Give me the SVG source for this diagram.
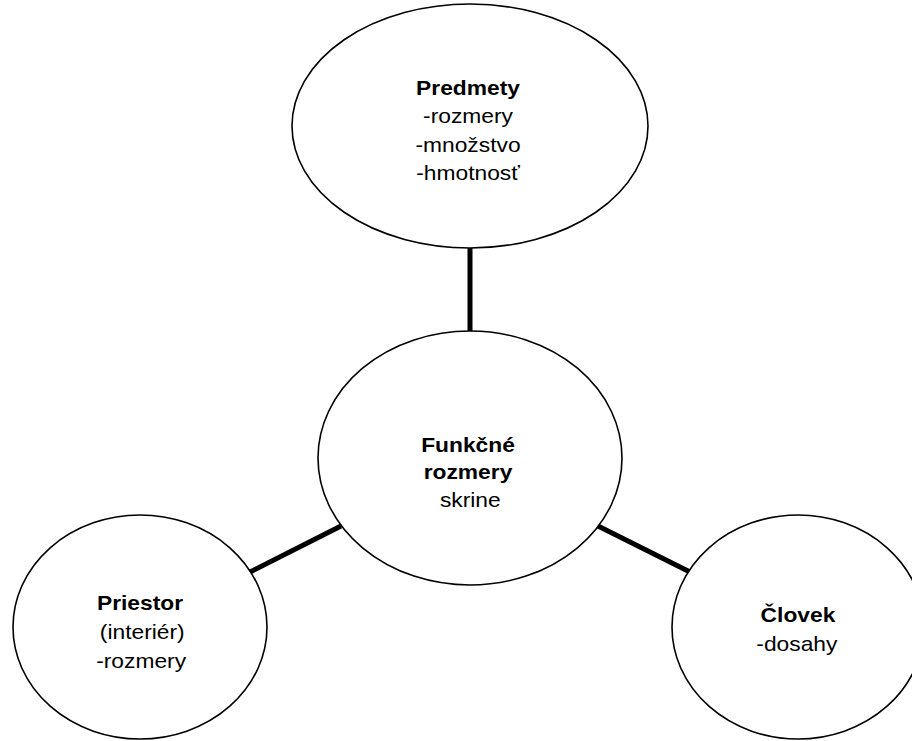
<svg xmlns="http://www.w3.org/2000/svg" width="912" height="741" viewBox="0 0 912 741">
<style>
.shape{fill:#fff;stroke:#000;stroke-width:1.6}
.conn{stroke:#000;stroke-width:5;fill:none}
text{font-family:"Liberation Sans",Arial,sans-serif;font-size:20px;fill:#000;text-anchor:middle}
.b{font-weight:bold}
</style>
<rect width="912" height="741" fill="#fff"/>
<g id="connectors">
<line class="conn" x1="470" y1="248" x2="470" y2="332"/>
<line class="conn" x1="250" y1="572" x2="341" y2="526"/>
<line class="conn" x1="598" y1="526" x2="690" y2="572"/>
</g>
<g id="predmety">
<ellipse class="shape" cx="470" cy="126" rx="178" ry="122"/>
<g transform="matrix(1.14 0 0 1 468 0)">
<text class="b" x="0" y="95">Predmety</text>
<text x="0" y="123.5">-rozmery</text>
<text x="0" y="152">-množstvo</text>
<text x="0" y="180.5">-hmotnosť</text>
</g>
</g>
<g id="funkcne">
<ellipse class="shape" cx="470" cy="458" rx="152" ry="127"/>
<g transform="matrix(1.14 0 0 1 468 0)">
<text class="b" x="0" y="452">Funkčné</text>
<text class="b" x="0" y="479">rozmery</text>
<text x="2" y="507">skrine</text>
</g>
</g>
<g id="priestor">
<ellipse class="shape" cx="140" cy="627" rx="127" ry="112"/>
<g transform="matrix(1.14 0 0 1 140 0)">
<text class="b" x="0" y="610">Priestor</text>
<text x="2" y="639">(interiér)</text>
<text x="1" y="668">-rozmery</text>
</g>
</g>
<g id="clovek">
<ellipse class="shape" cx="798" cy="627" rx="126" ry="112"/>
<g transform="matrix(1.14 0 0 1 798 0)">
<text class="b" x="0" y="622">Človek</text>
<text x="-1" y="651">-dosahy</text>
</g>
</g>
</svg>
